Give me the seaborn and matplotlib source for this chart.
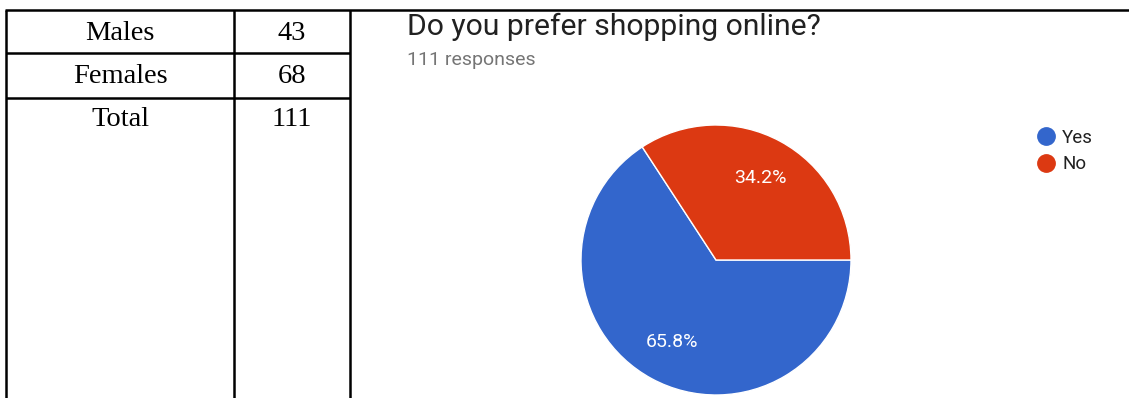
import matplotlib
matplotlib.use("Agg")
import matplotlib.pyplot as plt
from matplotlib.lines import Line2D
import seaborn as sns

# ---- data ----
table_labels = ["Males", "Females", "Total"]
table_values = [43, 68, 111]
pie_labels = ["Yes", "No"]
pie_percent = [65.8, 34.2]
title = "Do you prefer shopping online?"
subtitle = "111 responses"

sns.set_theme(style="white")
plt.rcParams["font.family"] = ["Roboto", "DejaVu Sans"]
colors = ["#3366CC", "#DC3912"]

W, H = 1129, 398
fig = plt.figure(figsize=(W / 100, H / 100), dpi=100)
fig.patch.set_facecolor("white")

def fx(x):
    return x / W

def fy(y):
    return 1 - y / H

def line(x0, y0, x1, y1):
    fig.add_artist(Line2D([fx(x0), fx(x1)], [fy(y0), fy(y1)], color="black",
                          lw=1.8, transform=fig.transFigure, solid_capstyle="butt"))

# table borders
line(5, 9.5, W, 9.5)
for xv in (6, 234, 350):
    line(xv, 9.5, xv, H)
for yv in (53, 98):
    line(6, yv, 350, yv)

baselines = [40, 83, 126]
for lab, val, yb in zip(table_labels, table_values, baselines):
    fig.text(fx(120), fy(yb), lab, ha="center", va="baseline",
             family="Liberation Serif", fontsize=20.5, color="black")
    fig.text(fx(292), fy(yb), str(val), ha="center", va="baseline",
             family="Liberation Serif", fontsize=20.5, color="black")

# title
fig.text(fx(407), fy(35), title, ha="left", va="baseline", fontsize=21.7, color="#212121")
fig.text(fx(407), fy(65), subtitle, ha="left", va="baseline", fontsize=14, color="#757575")

# pie
cx, cy, r = 716, 260, 135
ax = fig.add_axes([fx(cx - r), fy(cy + r), (2 * r) / W, (2 * r) / H])
start = 360 * pie_percent[1] / 100
wedges, _, autotexts = ax.pie(pie_percent, colors=colors, startangle=start, counterclock=True,
                              autopct=lambda p: f"{p:.1f}%", pctdistance=0.69,
                              wedgeprops=dict(edgecolor="white", linewidth=1),
                              textprops=dict(color="white", fontsize=14))
ax.set_xlim(-1, 1)
ax.set_ylim(-1, 1)
ax.set_aspect("equal")
ax.axis("off")

handles = [Line2D([], [], marker="o", linestyle="none", markersize=12.5,
                  markerfacecolor=c, markeredgecolor=c) for c in colors]
fig.legend(handles, pie_labels, loc="upper left", bbox_to_anchor=(fx(1033), fy(129)),
           frameon=False, fontsize=13.5, handletextpad=0.15, labelspacing=0.45,
           borderpad=0, borderaxespad=0, handlelength=1.4, labelcolor="#212121")

fig.savefig("out.png", dpi=100)
